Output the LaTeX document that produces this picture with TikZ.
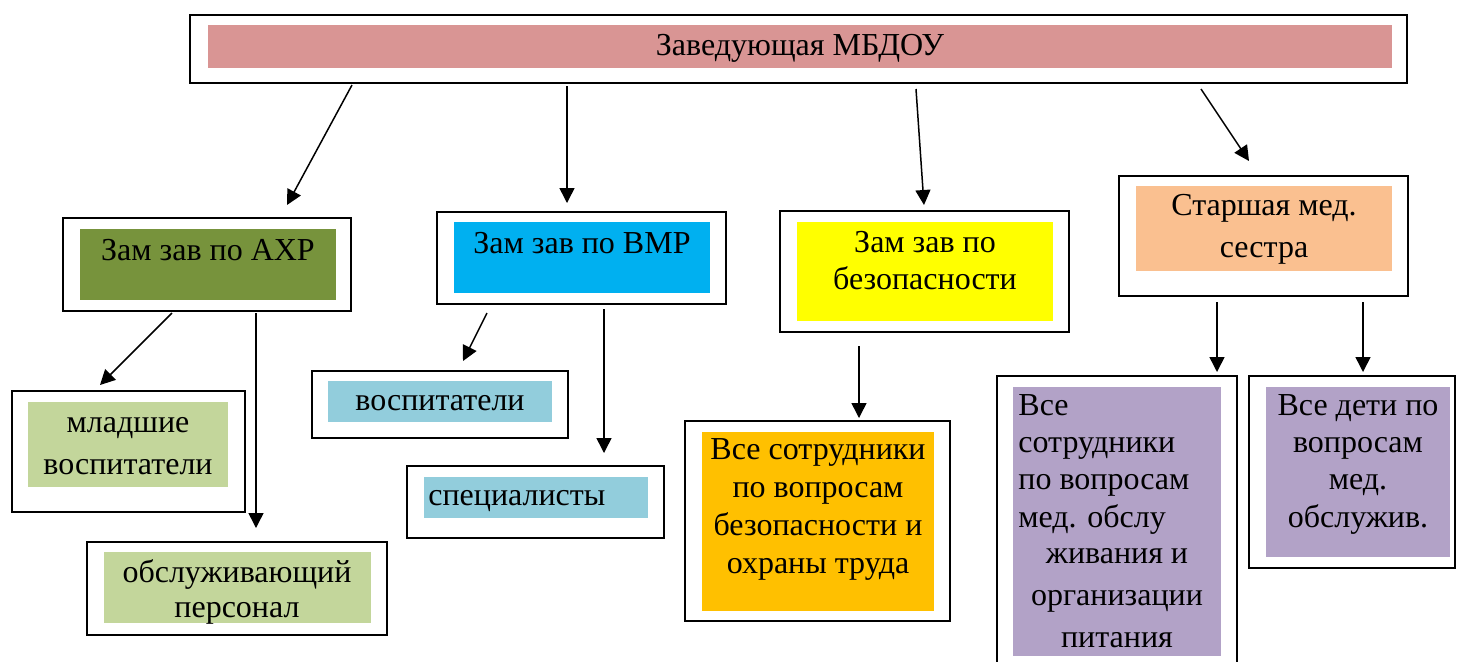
\documentclass[tikz,border=0pt]{standalone}
\usepackage{fontspec}
\setmainfont{Liberation Serif}
\usetikzlibrary{fit,arrows.meta}
\definecolor{ctop}{HTML}{D99594}
\definecolor{caxp}{HTML}{77933C}
\definecolor{clgreen}{HTML}{C3D69B}
\definecolor{cvmr}{HTML}{00B0F0}
\definecolor{clblue}{HTML}{92CDDC}
\definecolor{cyel}{HTML}{FFFF00}
\definecolor{corange}{HTML}{FFC000}
\definecolor{cpeach}{HTML}{FAC090}
\definecolor{cpurple}{HTML}{B2A2C7}
\begin{document}
\begin{tikzpicture}[x=0.5pt,y=-0.5pt,
  outerbox/.style={draw=black,line width=1pt,inner sep=0pt,fill=white},
  fillbox/.style={inner sep=0pt,draw=none},
  txt/.style={font=\fontsize{16}{19}\selectfont,inner sep=0pt,align=center,anchor=base},
  arr/.style={line width=0.75pt,-{Triangle[length=7.5pt,width=7.5pt]}}]
\useasboundingbox (0,0) rectangle (1457,661);
% top
\node[outerbox,fit={(190,15) (1407,83)}] (top) {};
\node[fillbox,fill=ctop,fit={(208,25) (1392,68)}] (topin) {};
\node[txt] (toptx) at (800,55) {Заведующая МБДОУ};
% AXP
\node[outerbox,fit={(63,218) (351,311)}] (axp) {};
\node[fillbox,fill=caxp,fit={(80,229) (336,300)}] (axpin) {};
\node[txt] (axptx) at (208,260) {Зам зав по АХР};
% mladshie
\node[outerbox,fit={(12,391) (245,512)}] (ml) {};
\node[fillbox,fill=clgreen,fit={(28,402) (228,487)}] (mlin) {};
\node[txt,font=\fontsize{16}{21}\selectfont] (mltx) at (128,474) {младшие\\воспитатели};
% obsluzh
\node[outerbox,fit={(87,542) (387,635)}] (ob) {};
\node[fillbox,fill=clgreen,fit={(104,552) (371,623)}] (obin) {};
\node[txt,font=\fontsize{16}{17.5}\selectfont] (obtx) at (237,617) {обслуживающий\\персонал};
% VMR
\node[outerbox,fit={(437,212) (726,304)}] (vmr) {};
\node[fillbox,fill=cvmr,fit={(454,222) (710,293)}] (vmrin) {};
\node[txt] (vmrtx) at (582,253) {Зам зав по ВМР};
% vospitateli
\node[outerbox,fit={(312,371) (568,438)}] (vos) {};
\node[fillbox,fill=clblue,fit={(328,381) (552,422)}] (vosin) {};
\node[txt] (vostx) at (440,410) {воспитатели};
% specialisty
\node[outerbox,fit={(407,466) (664,538)}] (sp) {};
\node[fillbox,fill=clblue,fit={(424,477) (648,518)}] (spin) {};
\node[txt,anchor=base west] (sptx) at (428,505) {специалисты};
% bezopasnost
\node[outerbox,fit={(780,211) (1069,332)}] (bez) {};
\node[fillbox,fill=cyel,fit={(797,222) (1053,321)}] (bezin) {};
\node[txt,font=\fontsize{16}{18.5}\selectfont] (beztx) at (925,289) {Зам зав по\\безопасности};
% vse sotrudniki
\node[outerbox,fit={(685,421) (950,621)}] (vs) {};
\node[fillbox,fill=corange,fit={(702,432) (934,611)}] (vsin) {};
\node[txt,font=\fontsize{16}{18.85}\selectfont] (vstx) at (818,573) {Все сотрудники\\по вопросам\\безопасности и\\охраны труда};
% starshaya
\node[outerbox,fit={(1119,176) (1408,296)}] (st) {};
\node[fillbox,fill=cpeach,fit={(1136,186) (1392,271)}] (stin) {};
\node[txt,font=\fontsize{16}{21}\selectfont] (sttx) at (1264,257) {Старшая мед.\\сестра};
% med staff
\node[outerbox,fit={(997,376) (1237,680)}] (med) {};
\node[fillbox,fill=cpurple,fit={(1013,387) (1221,656)}] (medin) {};
\node[txt,align=left,anchor=base west,font=\fontsize{16}{18.65}\selectfont] (medtxa) at (1018,527) {Все\\сотрудники\\по вопросам\\мед. обслу};
\node[txt,font=\fontsize{16}{21}\selectfont] (medtxb) at (1117,647) {живания и\\организации\\питания};
% children
\node[outerbox,fit={(1249,376) (1455,568)}] (det) {};
\node[fillbox,fill=cpurple,fit={(1266,387) (1450,557)}] (detin) {};
\node[txt,font=\fontsize{16}{18.65}\selectfont] (dettx) at (1358,527) {Все дети по\\вопросам\\мед.\\обслужив.};
% connector ends
\coordinate (s1) at (352,85);  \coordinate (e1) at (287,205);
\coordinate (s2) at (567,86);  \coordinate (e2) at (567,203);
\coordinate (s3) at (916,89);  \coordinate (e3) at (924,205);
\coordinate (s4) at (1201,89); \coordinate (e4) at (1249,161);
\coordinate (s5) at (172,313); \coordinate (e5) at (100,385);
\coordinate (s6) at (256,313); \coordinate (e6) at (256,528);
\coordinate (s7) at (487,313); \coordinate (e7) at (463,361);
\coordinate (s8) at (604,309); \coordinate (e8) at (604,453);
\coordinate (s9) at (859,346); \coordinate (e9) at (859,418);
\coordinate (s10) at (1217,302); \coordinate (e10) at (1217,372);
\coordinate (s11) at (1363,302); \coordinate (e11) at (1363,372);
\foreach \i in {1,...,11} {\draw[arr] (s\i) -- (e\i);}
\end{tikzpicture}
\end{document}
